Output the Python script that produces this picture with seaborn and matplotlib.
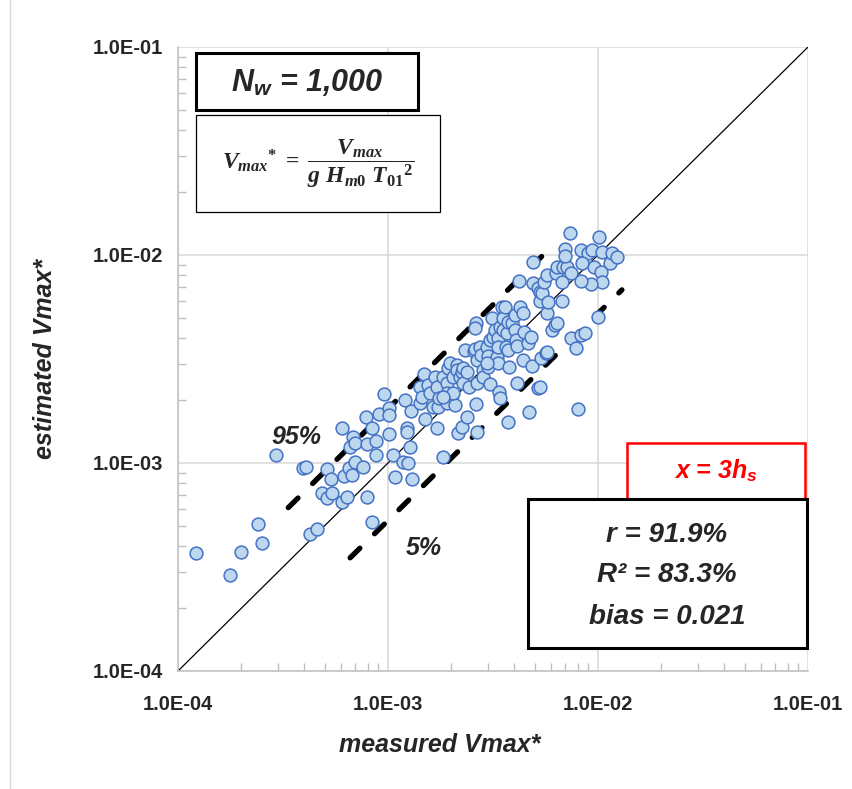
import numpy as np
import pandas as pd
import seaborn as sns
import matplotlib.pyplot as plt
from matplotlib.patches import Rectangle
from matplotlib.lines import Line2D
from matplotlib.ticker import LogLocator, FuncFormatter, NullFormatter

# measured vs estimated Vmax*
measured = [
    1.22e-4, 1.77e-4, 2.00e-4, 2.40e-4, 2.52e-4, 2.93e-4, 3.94e-4, 4.07e-4, 4.26e-4, 4.59e-4,
    4.86e-4, 5.13e-4, 5.42e-4, 5.13e-4, 5.36e-4, 6.05e-4, 6.05e-4, 6.38e-4, 6.18e-4, 6.52e-4,
    6.75e-4, 6.97e-4, 7.61e-4, 6.60e-4, 6.82e-4, 6.97e-4, 7.95e-4, 7.95e-4, 8.40e-4, 7.86e-4,
    8.40e-4, 8.77e-4, 8.77e-4, 9.06e-4, 9.56e-4, 1.01e-3, 1.01e-3, 1.01e-3, 1.06e-3, 1.08e-3,
    1.18e-3, 1.25e-3, 1.27e-3, 1.23e-3, 1.23e-3, 1.21e-3, 1.29e-3, 1.30e-3, 1.42e-3, 1.42e-3,
    1.45e-3, 1.49e-3, 1.50e-3, 1.55e-3, 1.58e-3, 1.64e-3, 1.68e-3, 1.71e-3, 1.73e-3, 1.71e-3,
    1.75e-3, 1.83e-3, 1.83e-3, 1.91e-3, 1.91e-3, 1.91e-3, 1.93e-3, 1.97e-3, 2.02e-3, 2.04e-3,
    2.09e-3, 2.13e-3, 2.13e-3, 2.15e-3, 2.20e-3, 2.25e-3, 2.25e-3, 2.28e-3, 2.28e-3, 2.33e-3,
    2.38e-3, 2.38e-3, 2.43e-3, 2.57e-3, 2.63e-3, 2.60e-3, 2.60e-3, 2.66e-3, 2.63e-3, 2.66e-3,
    2.66e-3, 2.04e-3, 1.83e-3, 2.74e-3, 2.77e-3, 2.83e-3, 2.83e-3, 2.96e-3, 2.99e-3, 2.99e-3,
    3.06e-3, 3.06e-3, 3.13e-3, 3.16e-3, 3.23e-3, 3.30e-3, 3.34e-3, 3.34e-3, 3.34e-3, 3.38e-3,
    3.41e-3, 3.41e-3, 3.49e-3, 3.53e-3, 3.53e-3, 3.61e-3, 3.65e-3, 3.73e-3, 3.69e-3, 3.73e-3,
    3.73e-3, 3.77e-3, 3.90e-3, 4.03e-3, 4.03e-3, 4.07e-3, 4.12e-3, 4.12e-3, 4.21e-3, 4.26e-3,
    4.40e-3, 4.40e-3, 4.45e-3, 4.64e-3, 4.69e-3, 4.80e-3, 4.86e-3, 4.91e-3, 4.91e-3, 5.18e-3,
    5.18e-3, 5.30e-3, 5.30e-3, 5.36e-3, 5.42e-3, 5.54e-3, 5.66e-3, 5.72e-3, 5.72e-3, 5.78e-3,
    6.05e-3, 6.25e-3, 6.32e-3, 6.38e-3, 6.38e-3, 6.75e-3, 6.75e-3, 6.82e-3, 7.12e-3, 6.97e-3,
    6.97e-3, 7.36e-3, 7.44e-3, 7.44e-3, 7.86e-3, 8.03e-3, 8.30e-3, 8.68e-3, 8.30e-3, 8.96e-3,
    9.37e-3, 9.58e-3, 1.01e-2, 1.05e-2, 1.14e-2, 1.17e-2, 1.23e-2, 1.03e-2, 1.05e-2, 9.27e-3,
    8.30e-3, 1.00e-2, 8.40e-3, 5.72e-3, 5.30e-3, 2.96e-3,
]
estimated = [
    3.70e-4, 2.90e-4, 3.74e-4, 5.10e-4, 4.13e-4, 1.09e-3, 9.49e-4, 9.57e-4, 4.56e-4, 4.82e-4,
    7.18e-4, 6.80e-4, 7.18e-4, 9.32e-4, 8.39e-4, 1.48e-3, 6.49e-4, 6.87e-4, 8.67e-4, 9.41e-4,
    8.77e-4, 1.01e-3, 9.57e-4, 1.20e-3, 1.34e-3, 1.25e-3, 6.87e-4, 1.24e-3, 5.21e-4, 1.67e-3,
    1.48e-3, 1.28e-3, 1.09e-3, 1.72e-3, 2.15e-3, 1.84e-3, 1.70e-3, 1.38e-3, 1.09e-3, 8.58e-4,
    1.01e-3, 1.00e-3, 1.20e-3, 1.48e-3, 1.41e-3, 2.01e-3, 1.78e-3, 8.39e-4, 2.32e-3, 1.94e-3,
    2.08e-3, 2.68e-3, 1.63e-3, 2.37e-3, 2.17e-3, 1.86e-3, 2.59e-3, 2.32e-3, 1.86e-3, 1.48e-3,
    2.05e-3, 2.59e-3, 1.07e-3, 2.42e-3, 2.17e-3, 1.94e-3, 2.87e-3, 3.03e-3, 2.12e-3, 2.59e-3,
    1.90e-3, 2.96e-3, 2.80e-3, 1.39e-3, 2.59e-3, 2.74e-3, 1.49e-3, 2.87e-3, 2.42e-3, 3.50e-3,
    2.74e-3, 1.67e-3, 2.32e-3, 3.45e-3, 4.71e-3, 4.46e-3, 3.54e-3, 3.13e-3, 1.92e-3, 2.42e-3,
    1.41e-3, 2.17e-3, 2.08e-3, 3.62e-3, 3.31e-3, 2.80e-3, 2.59e-3, 3.62e-3, 3.27e-3, 2.90e-3,
    3.91e-3, 2.40e-3, 4.99e-3, 4.04e-3, 4.37e-3, 3.24e-3, 4.00e-3, 3.62e-3, 3.03e-3, 2.19e-3,
    2.05e-3, 4.51e-3, 5.63e-3, 4.99e-3, 4.37e-3, 5.63e-3, 3.62e-3, 3.50e-3, 4.22e-3, 4.76e-3,
    1.57e-3, 2.90e-3, 4.71e-3, 5.15e-3, 4.37e-3, 3.91e-3, 3.66e-3, 2.42e-3, 7.51e-3, 5.63e-3,
    5.26e-3, 3.13e-3, 4.27e-3, 3.78e-3, 1.76e-3, 4.04e-3, 2.93e-3, 9.24e-3, 7.34e-3, 6.95e-3,
    2.30e-3, 6.64e-3, 6.01e-3, 3.20e-3, 6.57e-3, 7.42e-3, 3.38e-3, 7.99e-3, 5.26e-3, 5.94e-3,
    4.37e-3, 4.61e-3, 8.19e-3, 8.77e-3, 4.71e-3, 7.41e-3, 6.01e-3, 8.77e-3, 8.77e-3, 1.07e-2,
    9.89e-3, 1.28e-2, 8.19e-3, 4.00e-3, 3.58e-3, 1.82e-3, 4.13e-3, 4.22e-3, 1.06e-2, 1.02e-2,
    1.06e-2, 8.77e-3, 1.22e-2, 1.03e-2, 9.15e-3, 1.02e-2, 9.78e-3, 8.28e-3, 7.42e-3, 7.26e-3,
    7.51e-3, 5.05e-3, 9.15e-3, 3.42e-3, 2.32e-3, 3.03e-3,
]

# reference lines
one_to_one = [1e-4, 1e-1]
upper95_x = [3.35e-4, 6.3e-3]
upper95_y = [6.1e-4, 1.15e-2]
lower5_x = [6.6e-4, 1.3e-2]
lower5_y = [3.5e-4, 6.8e-3]
tick_vals = [1e-4, 1e-3, 1e-2, 1e-1]

df = pd.DataFrame({"measured": measured, "estimated": estimated})

sns.set_style("white")
plt.rcParams["font.family"] = ["Liberation Sans", "DejaVu Sans"]
plt.rcParams["mathtext.fontset"] = "custom"
plt.rcParams["mathtext.it"] = "Liberation Serif:italic:bold"
plt.rcParams["mathtext.rm"] = "Liberation Serif:bold"
plt.rcParams["mathtext.bf"] = "Liberation Serif:bold"
plt.rcParams["mathtext.sf"] = "Liberation Sans:italic:bold"

fig = plt.figure(figsize=(8.53, 7.89), dpi=100)
ax = fig.add_axes([178/853, 1-671/789, 630/853, 624/789])
ax.set_xscale("log")
ax.set_yscale("log")
ax.set_xlim(1e-4, 1e-1)
ax.set_ylim(1e-4, 1e-1)

ax.grid(True, which="major", color="#d9d9d9", lw=1.1, zorder=0)
ax.set_axisbelow(True)

ax.plot(one_to_one, one_to_one, color="black", lw=0.9, zorder=2)
for xs, ys in [(upper95_x, upper95_y), (lower5_x, lower5_y)]:
    ax.plot(xs, ys, color="black", lw=3.8, dashes=(2.6, 3.9),
            dash_capstyle="round", zorder=2)

sns.scatterplot(data=df, x="measured", y="estimated", ax=ax, s=85,
                color="#BDD7EE", edgecolor="#4472C4", linewidth=1.1, zorder=3)

ax.xaxis.set_major_locator(LogLocator(base=10))
ax.yaxis.set_major_locator(LogLocator(base=10))
ax.xaxis.set_minor_locator(LogLocator(base=10, subs=np.arange(2, 10)))
ax.yaxis.set_minor_locator(LogLocator(base=10, subs=np.arange(2, 10)))
ax.xaxis.set_minor_formatter(NullFormatter())
ax.yaxis.set_minor_formatter(NullFormatter())
fmt = FuncFormatter(lambda v, p: f"{v:.1E}")
ax.xaxis.set_major_formatter(fmt)
ax.yaxis.set_major_formatter(fmt)
ax.set_xticks(tick_vals)
ax.set_yticks(tick_vals)
ax.tick_params(which="major", length=0, labelsize=14.5)
ax.tick_params(axis="x", which="major", pad=17)
ax.tick_params(axis="y", which="major", pad=11)
ax.tick_params(which="minor", direction="in", length=6, color="#bfbfbf", width=1,
               left=True, bottom=True)
for lab in ax.get_xticklabels() + ax.get_yticklabels():
    lab.set_fontweight("bold")
for side in ["top", "right"]:
    ax.spines[side].set_visible(False)
for side in ["left", "bottom"]:
    ax.spines[side].set_color("#bfbfbf")
    ax.spines[side].set_linewidth(1.1)
ax.set_xlabel("")
ax.set_ylabel("")

# axis titles
fig.text(440/853, 1-745/789, "measured Vmax*", ha="center", va="center",
         fontsize=18, fontweight="bold", style="italic")
fig.text(45/853, 1-359/789, "estimated Vmax*", ha="center", va="center",
         rotation=90, fontsize=18, fontweight="bold", style="italic")

# annotation boxes
def box(x0, y0, x1, y1, color="black", lw=2.2):
    fig.add_artist(Rectangle((x0/853, 1-y1/789), (x1-x0)/853, (y1-y0)/789,
                             transform=fig.transFigure, facecolor="white",
                             edgecolor=color, lw=lw, zorder=5))

box(196, 53, 418, 110)
fig.text(307/853, 1-82/789, r"$\mathsf{N}_\mathsf{w}$ = 1,000", ha="center", va="center",
         fontsize=22, fontweight="bold", style="italic", zorder=6)

box(196, 115, 440, 212, lw=0.9)
fig.text(318/853, 1-164/789,
         r"$V_{max}{}^{*}\;=\;\dfrac{V_{max}}{g\ H_{m0}\ T_{01}{}^{2}}$",
         ha="center", va="center", fontsize=17, zorder=6)

box(627, 443, 805, 499, color="red", lw=1.8)
fig.text(716/853, 1-471/789, r"x = 3$\mathsf{h}_\mathsf{s}$", ha="center", va="center",
         color="red", fontsize=18, fontweight="bold", style="italic", zorder=6)

box(528, 499, 807, 648)
for yy, txt in [(535, "r = 91.9%"), (575, "R² = 83.3%"), (617, "bias = 0.021")]:
    fig.text(667/853, 1-yy/789, txt, ha="center", va="center",
             fontsize=20, fontweight="bold", style="italic", zorder=6)

fig.text(296/853, 1-437/789, "95%", ha="center", va="center",
         fontsize=18, fontweight="bold", style="italic")
fig.text(424/853, 1-548/789, "5%", ha="center", va="center",
         fontsize=18, fontweight="bold", style="italic")

fig.add_artist(Line2D([10/853, 10/853], [0, 1], transform=fig.transFigure,
                      color="#d9d9d9", lw=1))

plt.savefig("out.png", dpi=100)
